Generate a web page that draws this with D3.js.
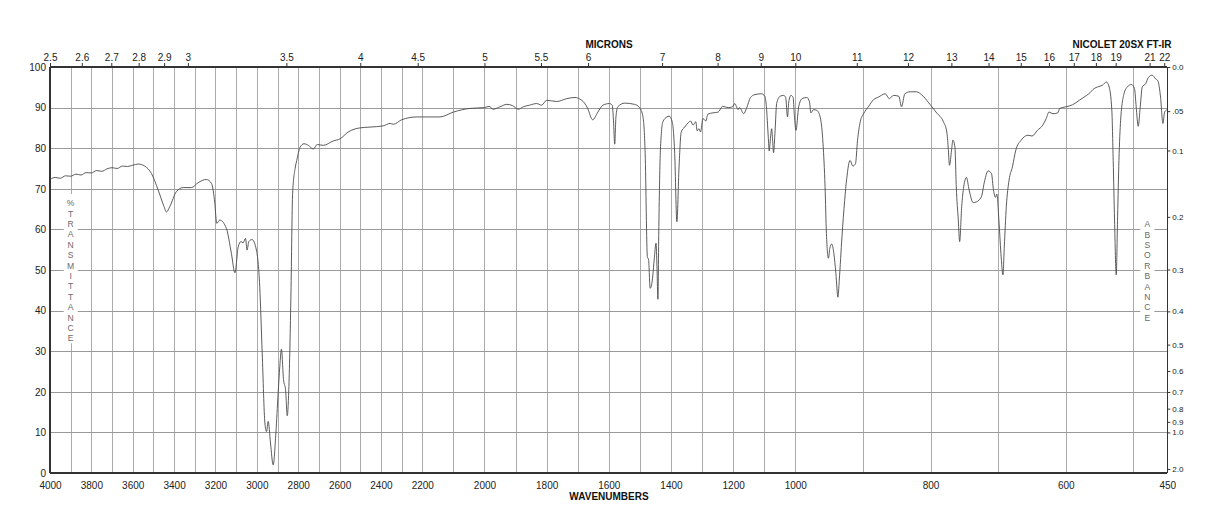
<!DOCTYPE html>
<html>
<head>
<meta charset="utf-8">
<script src="https://cdn.jsdelivr.net/npm/d3@7/dist/d3.min.js"></script>
<style>
  html, body { margin: 0; padding: 0; background: #fff; }
  svg { display: block; font-family: "Liberation Sans", Arial, Helvetica, sans-serif; }
</style>
</head>
<body>
<svg id="chart" width="1218" height="528"></svg>
<script>
// ---- data ----
const wavenumbers = [
  4000,3975,3950,3925,3900,3875,3850,3825,3800,3775,3750,3725,3700,3675,3650,3625,3600,
  3574,3542,3510,3477,3450,3437,3421,3389,3356,3316,3284,3244,3219,3203,3194,3179,3147,
  3123,3106,3090,3077,3066,3055,3047,3039,3023,3002,2986,2974,2961,2953,2945,2934,2921,
  2908,2897,2889,2881,2871,2861,2853,2845,2835,2827,2815,2807,2791,2772,2751,2727,2708,
  2679,2630,2598,2558,2502,2453,2389,2356,2340,2300,2227,2143,2100,2047,2000,1985,1972,
  1950,1928,1910,1891,1875,1855,1832,1816,1800,1768,1735,1709,1693,1678,1668,1652,1635,
  1619,1598,1589,1585,1581,1577,1571,1549,1517,1501,1490,1483,1476,1472,1467,1460,1454,
  1448,1445,1442,1439,1434,1426,1413,1406,1396,1388,1381,1374,1367,1356,1345,1337,1329,
  1320,1316,1310,1305,1297,1288,1281,1265,1248,1234,1216,1202,1195,1184,1179,1166,1157,
  1144,1130,1109,1098,1093,1087,1084,1080,1076,1073,1070,1065,1060,1049,1037,1031,1025,
  1021,1014,1007,1003,999,995,990,983,979,977,973,968,963,959,956,954,951,949,946,943,
  940,937,935,931,927,924,919,915,911,908,904,899,892,884,877,867,861,855,847,843,838,
  830,821,811,800,791,781,776,774,772,769,767,764,762,759,757,754,751,747,743,737,732,
  725,720,715,710,707,704,702,699,696,693,691,688,684,679,674,666,656,650,642,634,629,
  625,619,612,609,600,590,580,573,566,558,553,546,540,536,532,530,528,525.5,523.5,521.5,
  519,514,509,503,498.5,496,493,490,487,482,478,472.5,467.5,464,460,456.5,454,452,450
];
const transmittance = [
  72.3,72.8,72.6,73.2,73.1,73.6,73.4,74.0,73.9,74.5,74.3,74.9,75.2,75.0,75.6,75.5,75.8,
  76.1,75.6,73.8,69.7,65.8,64.3,65.6,69.3,70.3,70.3,71.5,72.3,71.3,66.4,61.5,62.3,60.2,
  54.1,49.3,55.7,57.0,56.7,57.8,54.9,57.0,57.5,54.9,45.9,29.5,12.3,10.2,12.7,7.4,2.0,
  9.8,19.7,26.2,30.5,23.0,20.5,14.1,21.3,44.3,68.9,75.0,77.0,80.2,81.1,80.7,79.8,80.9,
  80.7,81.8,82.3,84.0,85.0,85.2,85.5,86.1,85.9,87.0,87.7,87.7,88.9,89.8,90.0,90.3,89.6,
  90.2,90.8,90.5,89.6,90.2,90.6,91.0,90.6,91.8,91.5,92.2,92.5,92.1,91.1,89.8,87.0,88.9,
  90.6,91.0,90.6,86.9,81.0,87.7,90.2,91.1,90.8,90.0,87.7,78.7,53.3,52.5,45.5,47.5,52.5,
  56.6,50.8,42.8,60.7,79.5,86.5,87.7,87.9,86.5,78.7,61.9,75.4,84.0,85.2,86.2,86.7,85.7,
  86.5,84.3,84.8,84.0,87.3,86.7,88.4,88.7,88.9,90.3,90.0,90.2,91.0,89.5,90.0,88.5,89.8,
  92.5,93.2,93.4,92.8,90.2,82.8,79.3,82.4,84.8,82.0,78.9,84.4,91.0,92.8,93.0,92.5,87.7,
  91.4,93.0,92.5,88.1,84.4,90.2,92.2,92.5,91.4,88.7,89.5,89.3,87.5,81.1,70.5,59.0,52.9,55.3,56.4,54.1,
  49.2,43.3,47.5,58.2,67.2,72.5,77.0,75.6,76.2,81.9,86.5,88.5,90.2,92.0,92.6,93.4,92.2,93.0,92.8,90.2,93.4,
  93.9,93.9,92.8,90.6,88.7,86.5,84.0,80.3,75.8,79.5,82.0,80.3,70.5,62.3,57.0,65.6,70.5,72.8,69.7,66.6,66.8,
  68.0,72.0,74.4,73.8,69.7,67.9,68.7,62.3,54.1,48.8,55.7,65.6,72.1,75.4,79.5,82.0,83.2,83.0,84.4,85.7,87.3,
  88.9,88.5,88.7,89.8,90.2,90.7,91.8,92.6,93.4,94.7,95.1,95.5,96.3,95.1,89.3,77.0,62.3,48.8,63.1,77.0,
  86.9,93.4,95.1,95.7,94.7,90.2,85.4,90.2,95.1,95.9,97.4,98.0,97.1,96.6,92.6,86.1,88.9,89.3,89.5
];
const wavenumberTicks = [4000,3800,3600,3400,3200,3000,2800,2600,2400,2200,2000,1800,1600,1400,1200,1000,800,600,450];
const micronTicks = [2.5,2.6,2.7,2.8,2.9,3,3.5,4,4.5,5,5.5,6,7,8,9,10,11,12,13,14,15,16,17,18,19,21,22];
const transmittanceTicks = [0,10,20,30,40,50,60,70,80,90,100];
const absorbanceTicks = [0.0,0.05,0.1,0.2,0.3,0.4,0.5,0.6,0.7,0.8,0.9,1.0,2.0];
const absorbanceLabels = ["0.0",".05","0.1","0.2","0.3","0.4","0.5","0.6","0.7","0.8","0.9","1.0","2.0"];
const gridWavenumbers = d3.range(3900, 450, -100);
const gridPercents = [10,20,30,40,50,60,70,80,90];
const leftTitle = "%TRANSMITTANCE";
const rightTitle = "ABSORBANCE";

// ---- layout ----
const svg = d3.select("#chart");
const L = 50, R = 1167.3, T = 67, B = 473;
const xScale = d3.scaleLinear().domain([4000, 2200, 1000, 450]).range([L, 422.3, 795.3, R]);
const yScale = d3.scaleLinear().domain([0, 100]).range([B, T]);
const fontFam = '"Liberation Sans", Arial, Helvetica, sans-serif';

svg.append("rect").attr("width", 1218).attr("height", 528).attr("fill", "#fff");

// grid
const gGrid = svg.append("g").attr("shape-rendering", "crispEdges");
gGrid.selectAll("line.v").data(gridWavenumbers).join("line").attr("class", "v")
  .attr("x1", d => Math.round(xScale(d)) + 0.5).attr("x2", d => Math.round(xScale(d)) + 0.5)
  .attr("y1", T).attr("y2", B).attr("stroke", "#ababab").attr("stroke-width", 1);
gGrid.selectAll("line.h").data(gridPercents).join("line").attr("class", "h")
  .attr("y1", d => Math.round(yScale(d)) + 0.5).attr("y2", d => Math.round(yScale(d)) + 0.5)
  .attr("x1", L).attr("x2", R).attr("stroke", "#9a9a9a").attr("stroke-width", 1);

// vertical titles with white boxes
function verticalTitle(str, cx, y0, step) {
  const n = str.length;
  svg.append("rect").attr("x", cx - 7).attr("y", y0 - 9).attr("width", 14)
    .attr("height", (n - 1) * step + 14).attr("fill", "#fff");
  svg.append("g").selectAll("text").data(str.split("")).join("text")
    .attr("x", cx).attr("y", (d, i) => y0 + i * step + 3.2)
    .attr("text-anchor", "middle").attr("font-size", 8.6).attr("fill", "#6a6a6a")
    .attr("font-family", fontFam).text(d => d);
}
verticalTitle(leftTitle, 70.7, 203, 10.4);
verticalTitle(rightTitle, 1147.3, 224, 10.4);

// spectrum
const spectrumLine = d3.line().x((d, i) => xScale(wavenumbers[i])).y(d => yScale(d)).curve(d3.curveMonotoneX);
svg.append("path").datum(transmittance).attr("d", spectrumLine)
  .attr("fill", "none").attr("stroke", "#4a4a4a").attr("stroke-width", 0.9)
  .attr("stroke-linejoin", "round");

// frame
const gFrame = svg.append("g").attr("shape-rendering", "crispEdges").attr("stroke", "#333").attr("stroke-width", 1.2);
gFrame.append("line").attr("x1", L).attr("x2", R).attr("y1", T).attr("y2", T);
gFrame.append("line").attr("x1", L).attr("x2", R).attr("y1", B).attr("y2", B);
gFrame.append("line").attr("x1", L).attr("x2", L).attr("y1", T).attr("y2", B);
gFrame.append("line").attr("x1", R).attr("x2", R).attr("y1", T).attr("y2", B);

// bottom axis
const axisB = d3.axisBottom(xScale).tickValues(wavenumberTicks).tickSize(0).tickPadding(9).tickFormat(d3.format("d"));
const gB = svg.append("g").attr("transform", `translate(0,${B})`).call(axisB);
gB.select(".domain").remove();
gB.selectAll("text").attr("font-size", 10).attr("font-family", fontFam).attr("fill", "#222");

// top axis (microns)
const axisT = d3.axisTop(xScale).tickValues(micronTicks.map(m => 10000 / m)).tickSize(4).tickPadding(2)
  .tickFormat((d, i) => String(micronTicks[i]));
const gT = svg.append("g").attr("transform", `translate(0,${T})`).call(axisT);
gT.select(".domain").remove();
gT.selectAll("line").attr("stroke", "#333");
gT.selectAll("text").attr("font-size", 10).attr("font-family", fontFam).attr("fill", "#222");

// left axis
const axisL = d3.axisLeft(yScale).tickValues(transmittanceTicks).tickSize(0).tickPadding(4);
const gL = svg.append("g").attr("transform", `translate(${L},0)`).call(axisL);
gL.select(".domain").remove();
gL.selectAll("text").attr("font-size", 10).attr("font-family", fontFam).attr("fill", "#222");

// right axis (absorbance)
const axisR = d3.axisRight(yScale).tickValues(absorbanceTicks.map(a => 100 * Math.pow(10, -a)))
  .tickSize(3).tickPadding(2).tickFormat((d, i) => absorbanceLabels[i]);
const gR = svg.append("g").attr("transform", `translate(${R},0)`).call(axisR);
gR.select(".domain").remove();
gR.selectAll("line").attr("stroke", "#333");
gR.selectAll("text").attr("font-size", 8).attr("font-family", fontFam).attr("fill", "#222");

// titles
svg.append("text").attr("x", 609).attr("y", 48.3).attr("text-anchor", "middle")
  .attr("font-size", 10).attr("font-weight", "bold").attr("font-family", fontFam).attr("fill", "#111").text("MICRONS");
svg.append("text").attr("x", 1171.5).attr("y", 48.3).attr("text-anchor", "end")
  .attr("font-size", 10).attr("font-weight", "bold").attr("font-family", fontFam).attr("fill", "#111").text("NICOLET 20SX FT-IR");
svg.append("text").attr("x", 609).attr("y", 500.3).attr("text-anchor", "middle")
  .attr("font-size", 10).attr("font-weight", "bold").attr("font-family", fontFam).attr("fill", "#111").text("WAVENUMBERS");
</script>
</body>
</html>
